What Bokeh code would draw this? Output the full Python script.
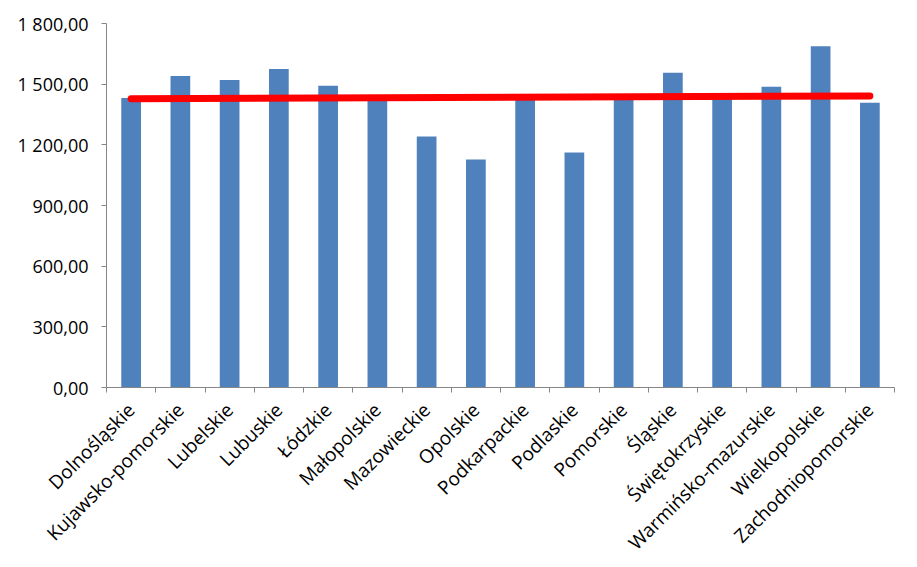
import math
from bokeh.plotting import figure
from bokeh.models import Range1d, FixedTicker
from bokeh.embed import file_html
from bokeh.resources import INLINE

categories = ["Dolnośląskie", "Kujawsko-pomorskie", "Lubelskie", "Lubuskie", "Łódzkie",
              "Małopolskie", "Mazowieckie", "Opolskie", "Podkarpackie", "Podlaskie",
              "Pomorskie", "Śląskie", "Świętokrzyskie", "Warmińsko-mazurskie",
              "Wielkopolskie", "Zachodniopomorskie"]
values = [1431, 1541, 1521, 1575, 1492, 1432, 1241, 1128, 1436, 1162,
          1440, 1556, 1441, 1487, 1688, 1408]
trend_start = 1428
trend_end = 1442
y_ticks = [0, 300, 600, 900, 1200, 1500, 1800]

FONT = "Open Sans"
n = len(categories)
centers = list(range(n))
bounds = [i - 0.5 for i in range(n + 1)]

p = figure(width=917, height=567, output_backend="svg", toolbar_location=None,
           x_range=Range1d(-0.5, n - 0.5), y_range=Range1d(0, 1800),
           min_border_left=106, min_border_right=23, min_border_top=23, min_border_bottom=178)
p.outline_line_color = None
p.grid.visible = False
p.background_fill_color = "white"
p.border_fill_color = "white"

p.vbar(x=centers, top=values, width=0.4, bottom=0, fill_color="#4F81BD", line_color=None)
p.line(x=[centers[0], centers[-1]], y=[trend_start, trend_end], line_width=7,
       line_color="#FF0000", line_cap="round")

# x axis
xa = p.xaxis[0]
xa.ticker = FixedTicker(ticks=centers, minor_ticks=bounds)
xa.major_label_overrides = {i: c for i, c in zip(centers, categories)}
xa.major_tick_out = 0
xa.major_tick_in = 0
xa.minor_tick_out = 5
xa.minor_tick_in = 0
xa.minor_tick_line_color = "#868686"
xa.axis_line_color = "#868686"
xa.major_label_orientation = math.pi / 4
xa.major_label_text_font = FONT
xa.major_label_text_font_size = "19px"
xa.major_label_text_color = "#000000"
xa.major_label_standoff = 14

# y axis
ya = p.yaxis[0]
ya.ticker = FixedTicker(ticks=y_ticks)
ya.major_label_overrides = {v: f"{v:,.2f}".replace(",", " ").replace(".", ",") for v in y_ticks}
ya.major_tick_out = 5
ya.major_tick_in = 0
ya.minor_tick_line_color = None
ya.major_tick_line_color = "#868686"
ya.axis_line_color = "#868686"
ya.major_label_text_font = FONT
ya.major_label_text_font_size = "18px"
ya.major_label_text_color = "#000000"
ya.major_label_standoff = 13

open("out.html", "w").write(file_html(p, INLINE))
